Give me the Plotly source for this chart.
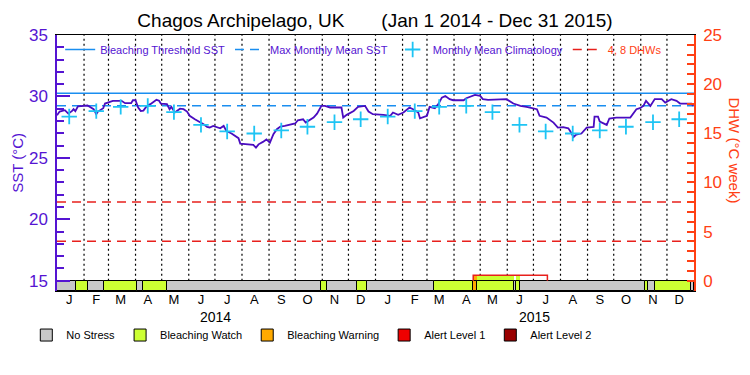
import pandas as pd
import plotly.graph_objects as go

# ---------------- data ----------------
PERIOD_START = "2014-01-01"
PERIOD_END = "2016-01-01"

# daily SST trace, sampled at its turning points (days since 2014-01-01, deg C)
sst_day = [0, 3, 9, 13, 17, 19, 21, 24, 35, 42, 45, 47, 53, 55, 64, 74, 78, 85, 87, 90,
           93, 96, 99, 103, 107, 110, 114, 117, 119, 126, 129, 131, 135, 141, 145, 149, 152, 158, 162, 168,
           172, 175, 179, 183, 187, 191, 194, 200, 204, 208, 210, 219, 225, 228, 231, 236, 240, 244, 248, 252,
           256, 261, 267, 273, 276, 282, 285, 289, 294, 298, 303, 307, 313, 326, 328, 332, 340, 345, 353, 357,
           362, 374, 382, 385, 391, 397, 404, 408, 414, 416, 424, 427, 433, 437, 441, 445, 450, 454, 466, 469,
           473, 479, 485, 488, 494, 515, 523, 531, 538, 544, 550, 553, 561, 569, 574, 580, 586, 588, 592, 595,
           601, 607, 615, 616, 620, 622, 630, 633, 641, 657, 660, 664, 668, 672, 675, 680, 685, 693, 697, 704,
           710, 714, 727, 729]
sst_value = [28.47, 28.77, 28.88, 28.60, 28.80, 28.96, 28.80, 29.20, 29.26, 28.96, 28.55, 28.77, 29.04, 29.42, 29.64, 29.64, 29.45, 29.45, 29.69, 29.69,
             29.10, 28.82, 28.85, 29.23, 29.37, 29.50, 29.72, 29.65, 29.42, 29.37, 28.96, 29.15, 28.69, 29.00, 28.96, 28.77, 28.42, 28.14, 28.00, 27.73,
             27.52, 27.47, 27.60, 27.52, 27.40, 27.60, 27.19, 26.98, 26.78, 26.60, 26.16, 26.10, 26.05, 25.83, 26.10, 26.30, 26.50, 26.24, 26.92, 27.33,
             27.55, 27.60, 27.73, 27.80, 28.06, 28.14, 27.87, 28.06, 28.28, 28.60, 29.23, 29.23, 29.10, 29.10, 28.28, 28.50, 28.82, 29.15, 29.23, 28.77,
             28.55, 28.50, 28.42, 28.69, 28.50, 28.69, 29.10, 28.96, 28.69, 28.22, 28.42, 29.15, 29.04, 29.37, 29.90, 30.04, 29.78, 29.69, 29.69, 29.85,
             29.96, 30.13, 30.04, 29.78, 29.72, 29.78, 29.42, 29.23, 29.15, 29.04, 28.96, 28.42, 28.28, 27.87, 27.46, 27.50, 27.40, 27.19, 26.70, 26.90,
             26.98, 27.46, 27.52, 28.35, 28.35, 27.95, 27.68, 28.20, 28.28, 28.28, 28.55, 28.96, 29.04, 29.23, 29.64, 29.23, 29.78, 29.78, 29.50, 29.78,
             29.64, 29.42, 29.42, 29.23]

# monthly mean climatology (Jan..Dec), shown for each year
clim_value = [28.36, 28.80, 29.15, 29.23, 28.72, 27.68, 27.15, 26.98, 27.23, 27.53, 27.90, 28.14]
clim_years = [2014, 2015]

mmm_sst = 29.25          # Max Monthly Mean SST
threshold_sst = 30.25    # Bleaching Threshold SST
dhw_lines = [4, 8]       # 4, 8 DHWs

# Degree Heating Weeks
dhw_dates = ["2015-04-23", "2015-04-23", "2015-07-17"]
dhw_values = [0.0, 0.55, 0.0]
dhw_fill_start = ["2015-04-23", "2015-04-27", "2015-06-11"]
dhw_fill_end = ["2015-04-27", "2015-06-09", "2015-06-16"]
dhw_fill_level = [2, 1, 1]
dhw_fill_value = [0.55, 0.55, 0.55]

# bleaching stress level periods
stress_start = ["2014-01-01", "2014-01-23", "2014-02-05", "2014-02-24", "2014-04-03", "2014-04-10",
                "2014-05-07", "2014-10-30", "2014-11-06", "2014-12-11", "2014-12-22", "2015-03-09",
                "2015-04-23", "2015-04-27", "2015-06-09", "2015-06-11", "2015-06-16", "2015-11-06",
                "2015-11-09", "2015-11-17", "2015-12-28"]
stress_level = [0, 1, 0, 1, 0, 1, 0, 1, 0, 1, 0, 1, 2, 1, 0, 1, 0, 1, 0, 1, 0]
stress_names = ["No Stress", "Bleaching Watch", "Bleaching Warning", "Alert Level 1", "Alert Level 2"]
stress_colors = ["#c8c8c8", "#ccff33", "#ffaa00", "#ee0000", "#990000"]

month_letters = ["J", "F", "M", "A", "M", "J", "J", "A", "S", "O", "N", "D"]
years = [2014, 2015]

# ---------------- styling ----------------
PURPLE = "#5514d2"
SST_COLOR = "#4a0cc0"
BLUE = "#1a8ef0"
CYAN = "#1ec4f4"
RED = "#e8201c"
ORANGE = "#ff4014"
FONT = "Liberation Sans"

Y2_MIN = -1.05
Y2_MAX = 25
Y_MIN = 15 + Y2_MIN / 1.25
Y_MAX = 35

t0 = pd.Timestamp(PERIOD_START)
t1 = pd.Timestamp(PERIOD_END)

mid_months = [pd.Timestamp(year=y, month=m, day=15) for y in years for m in range(1, 13)]
month_starts = [pd.Timestamp(year=y, month=m, day=1) for y in years for m in range(1, 13)]

fig = go.Figure()

# dotted month separators (drawn on the SST axis, above the stress bar)
gx, gy = [], []
for ms in month_starts[1:]:
    gx += [ms, ms, None]
    gy += [15, Y_MAX, None]
fig.add_trace(go.Scatter(x=gx, y=gy, mode="lines", line=dict(color="black", width=1.2, dash="2px,3px"),
                         showlegend=False, hoverinfo="skip", name="months"))

# threshold & MMM
fig.add_trace(go.Scatter(x=[t0, t1], y=[threshold_sst, threshold_sst], mode="lines",
                         line=dict(color=BLUE, width=1.5), name="Bleaching Threshold SST",
                         legend="legend", hoverinfo="skip"))
fig.add_trace(go.Scatter(x=[t0, t1], y=[mmm_sst, mmm_sst], mode="lines",
                         line=dict(color=BLUE, width=1.5, dash="9px,6px"), name="Max Monthly Mean SST",
                         legend="legend", hoverinfo="skip"))

# SST line
sst_dates = [t0 + pd.Timedelta(days=d) for d in sst_day]
fig.add_trace(go.Scatter(x=sst_dates, y=sst_value, mode="lines",
                         line=dict(color=SST_COLOR, width=1.8), name="SST", showlegend=False))

# climatology
clim_x, clim_y = [], []
for yr in clim_years:
    for m, v in enumerate(clim_value):
        clim_x.append(pd.Timestamp(year=yr, month=m + 1, day=15))
        clim_y.append(v)
fig.add_trace(go.Scatter(x=clim_x, y=clim_y, mode="markers",
                         marker=dict(symbol="cross-thin", size=11, line=dict(color=CYAN, width=1.8)),
                         name="Monthly Mean Climatology", legend="legend"))

# 4, 8 DHW lines
dx, dy = [], []
for lv in dhw_lines:
    dx += [t0, t1, None]
    dy += [lv, lv, None]
fig.add_trace(go.Scatter(x=dx, y=dy, yaxis="y2", mode="lines",
                         line=dict(color=RED, width=1.5, dash="9px,6px"),
                         name='<span style="color:%s">4, 8 DHWs</span>' % ORANGE, legend="legend"))

# DHW fill (colored by stress level) and DHW line
fs = pd.to_datetime(dhw_fill_start)
fe = pd.to_datetime(dhw_fill_end)
fig.add_trace(go.Bar(x=[a + (b - a) / 2 for a, b in zip(fs, fe)],
                     width=[(b - a).total_seconds() * 1000 for a, b in zip(fs, fe)],
                     y=dhw_fill_value, base=0, yaxis="y2",
                     marker=dict(color=[stress_colors[l] for l in dhw_fill_level], line=dict(width=0)),
                     showlegend=False, hoverinfo="skip"))
fig.add_trace(go.Scatter(x=pd.to_datetime(dhw_dates), y=dhw_values, yaxis="y2", mode="lines",
                         line=dict(color=RED, width=1.5, shape="hv"), showlegend=False, name="DHW"))

# stress bar
ss = pd.to_datetime(stress_start)
se = pd.to_datetime(stress_start[1:] + [PERIOD_END])
for lvl, (nm, col) in enumerate(zip(stress_names, stress_colors)):
    idx = [i for i, l in enumerate(stress_level) if l == lvl]
    if idx:
        xs = [ss[i] + (se[i] - ss[i]) / 2 for i in idx]
        ws = [(se[i] - ss[i]).total_seconds() * 1000 for i in idx]
        ys = [-Y2_MIN] * len(idx)
    else:
        xs, ws, ys = [None], None, [None]
    fig.add_trace(go.Bar(x=xs, y=ys, width=ws, base=Y2_MIN, yaxis="y2", name=nm,
                         marker=dict(color=col, line=dict(color="black", width=1)),
                         legend="legend2", hoverinfo="skip"))

# ---------------- layout ----------------
annotations = []
for y in years:
    annotations.append(dict(x=pd.Timestamp(year=y, month=7, day=2), xref="x", y=-0.1, yref="paper",
                            text=str(y), showarrow=False, font=dict(size=14, color="black", family=FONT),
                            yanchor="middle"))
annotations.append(dict(x=-0.063, xref="paper", y=0.5, yref="paper", text="SST (°C)", textangle=-90,
                        xanchor="center", yanchor="middle",
                        showarrow=False, font=dict(size=15, color=PURPLE, family=FONT)))
annotations.append(dict(x=1.064, xref="paper", y=0.55, yref="paper", text="DHW (°C week)", textangle=90,
                        xanchor="center", yanchor="middle",
                        showarrow=False, font=dict(size=15, color=ORANGE, family=FONT)))

fig.update_layout(
    width=750, height=375,
    margin=dict(l=57, r=56, t=35, b=84, autoexpand=False),
    paper_bgcolor="white", plot_bgcolor="white",
    barmode="overlay", bargap=0,
    font=dict(family=FONT, size=12, color="black"),
    title=dict(text="Chagos Archipelago, UK" + "\u00a0" * 7 + "(Jan 1 2014 - Dec 31 2015)",
               x=0.5, xanchor="center", y=0.947, yanchor="middle",
               font=dict(size=19, color="black", family=FONT)),
    xaxis=dict(range=[t0, t1], tickmode="array", tickvals=mid_months, ticktext=month_letters * len(years),
               ticks="", showgrid=False, showline=True, linecolor="black", linewidth=1, mirror=True,
               tickfont=dict(size=13, color="black"), zeroline=False, automargin=False,
               ticklabelstandoff=-4),
    yaxis=dict(range=[Y_MIN, Y_MAX], tickmode="array", tickvals=[15, 20, 25, 30, 35],
               ticks="inside", ticklen=13, tickcolor=PURPLE, tickwidth=1.5, automargin=False,
               showline=True, linecolor=PURPLE, linewidth=1.5, showgrid=False, zeroline=False,
               tickfont=dict(size=17, color=PURPLE), ticklabelstandoff=4,
               minor=dict(tickmode="linear", tick0=15, dtick=1, ticks="inside", ticklen=7,
                          tickcolor=PURPLE, tickwidth=1.5, showgrid=False)),
    yaxis2=dict(range=[Y2_MIN, Y2_MAX], overlaying="y", side="right", anchor="x",
                tickmode="array", tickvals=[0, 5, 10, 15, 20, 25], automargin=False,
                ticks="inside", ticklen=7, tickcolor=ORANGE, tickwidth=1.5,
                showline=True, linecolor=ORANGE, linewidth=1.5, showgrid=False, zeroline=False,
                tickfont=dict(size=17, color=ORANGE), ticklabelstandoff=4,
                minor=dict(tickmode="linear", tick0=0, dtick=1, ticks="inside", ticklen=7,
                           tickcolor=ORANGE, tickwidth=1.5, showgrid=False)),
    legend=dict(orientation="h", x=0.005, xanchor="left", y=1.0, yanchor="top",
                bgcolor="rgba(0,0,0,0)", font=dict(size=11, color=PURPLE, family=FONT),
                traceorder="normal"),
    legend2=dict(orientation="h", x=0.40, xanchor="center", y=-0.172, yanchor="middle",
                 bgcolor="rgba(0,0,0,0)", font=dict(size=11, color="black", family=FONT),
                 traceorder="normal"),
    annotations=annotations,
    showlegend=True,
)

fig.write_html("out.html", config={"displayModeBar": False},
               post_script="document.body.style.margin='0';document.body.style.padding='0';")
